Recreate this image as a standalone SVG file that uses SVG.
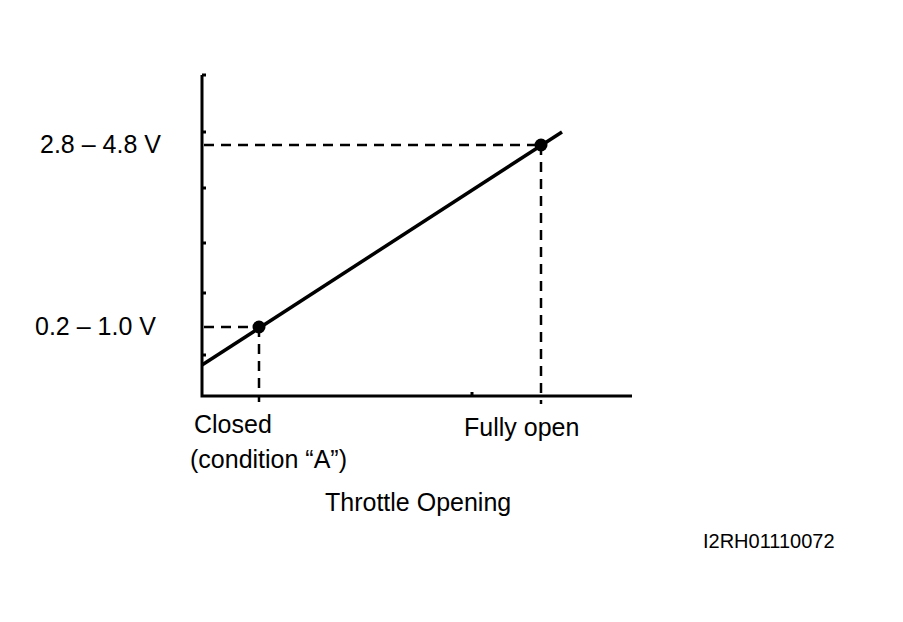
<svg xmlns="http://www.w3.org/2000/svg" width="903" height="622" viewBox="0 0 903 622">
<style>
text{font-family:"Liberation Sans",Arial,sans-serif;fill:#000}
.t{font-size:25px}
.d{stroke:#000;stroke-width:2.5;stroke-dasharray:10,7;fill:none}
.a{stroke:#000;stroke-width:3;fill:none}
</style>
<rect width="903" height="622" fill="#fff"/>
<g id="axes">
<path class="a" d="M202,75 V396 H632"/>
<path stroke="#000" stroke-width="3" d="M202,75 h4 M202,132 h4 M202,188 h4 M202,243 h4 M202,293 h4 M202,355 h4 M472,396 v-4"/>
</g>
<g id="connectors">
<path class="d" d="M204,145 H541 M204,327 H259 M259,327 V402 M541,145 V404"/>
<path stroke="#000" stroke-width="3.5" d="M202,365 L562,132"/>
</g>
<g id="point-closed"><circle cx="259" cy="327" r="6.5"/></g>
<g id="point-open"><circle cx="541" cy="145" r="6.5"/></g>
<g id="labels">
<text class="t" x="40" y="153">2.8 – 4.8 V</text>
<text class="t" x="35" y="335">0.2 – 1.0 V</text>
<text class="t" x="194" y="433">Closed</text>
<text class="t" x="190" y="468">(condition “A”)</text>
<text class="t" x="464" y="436">Fully open</text>
<text class="t" x="325" y="511">Throttle Opening</text>
<text x="703" y="548" font-size="20">I2RH01110072</text>
</g>
</svg>
